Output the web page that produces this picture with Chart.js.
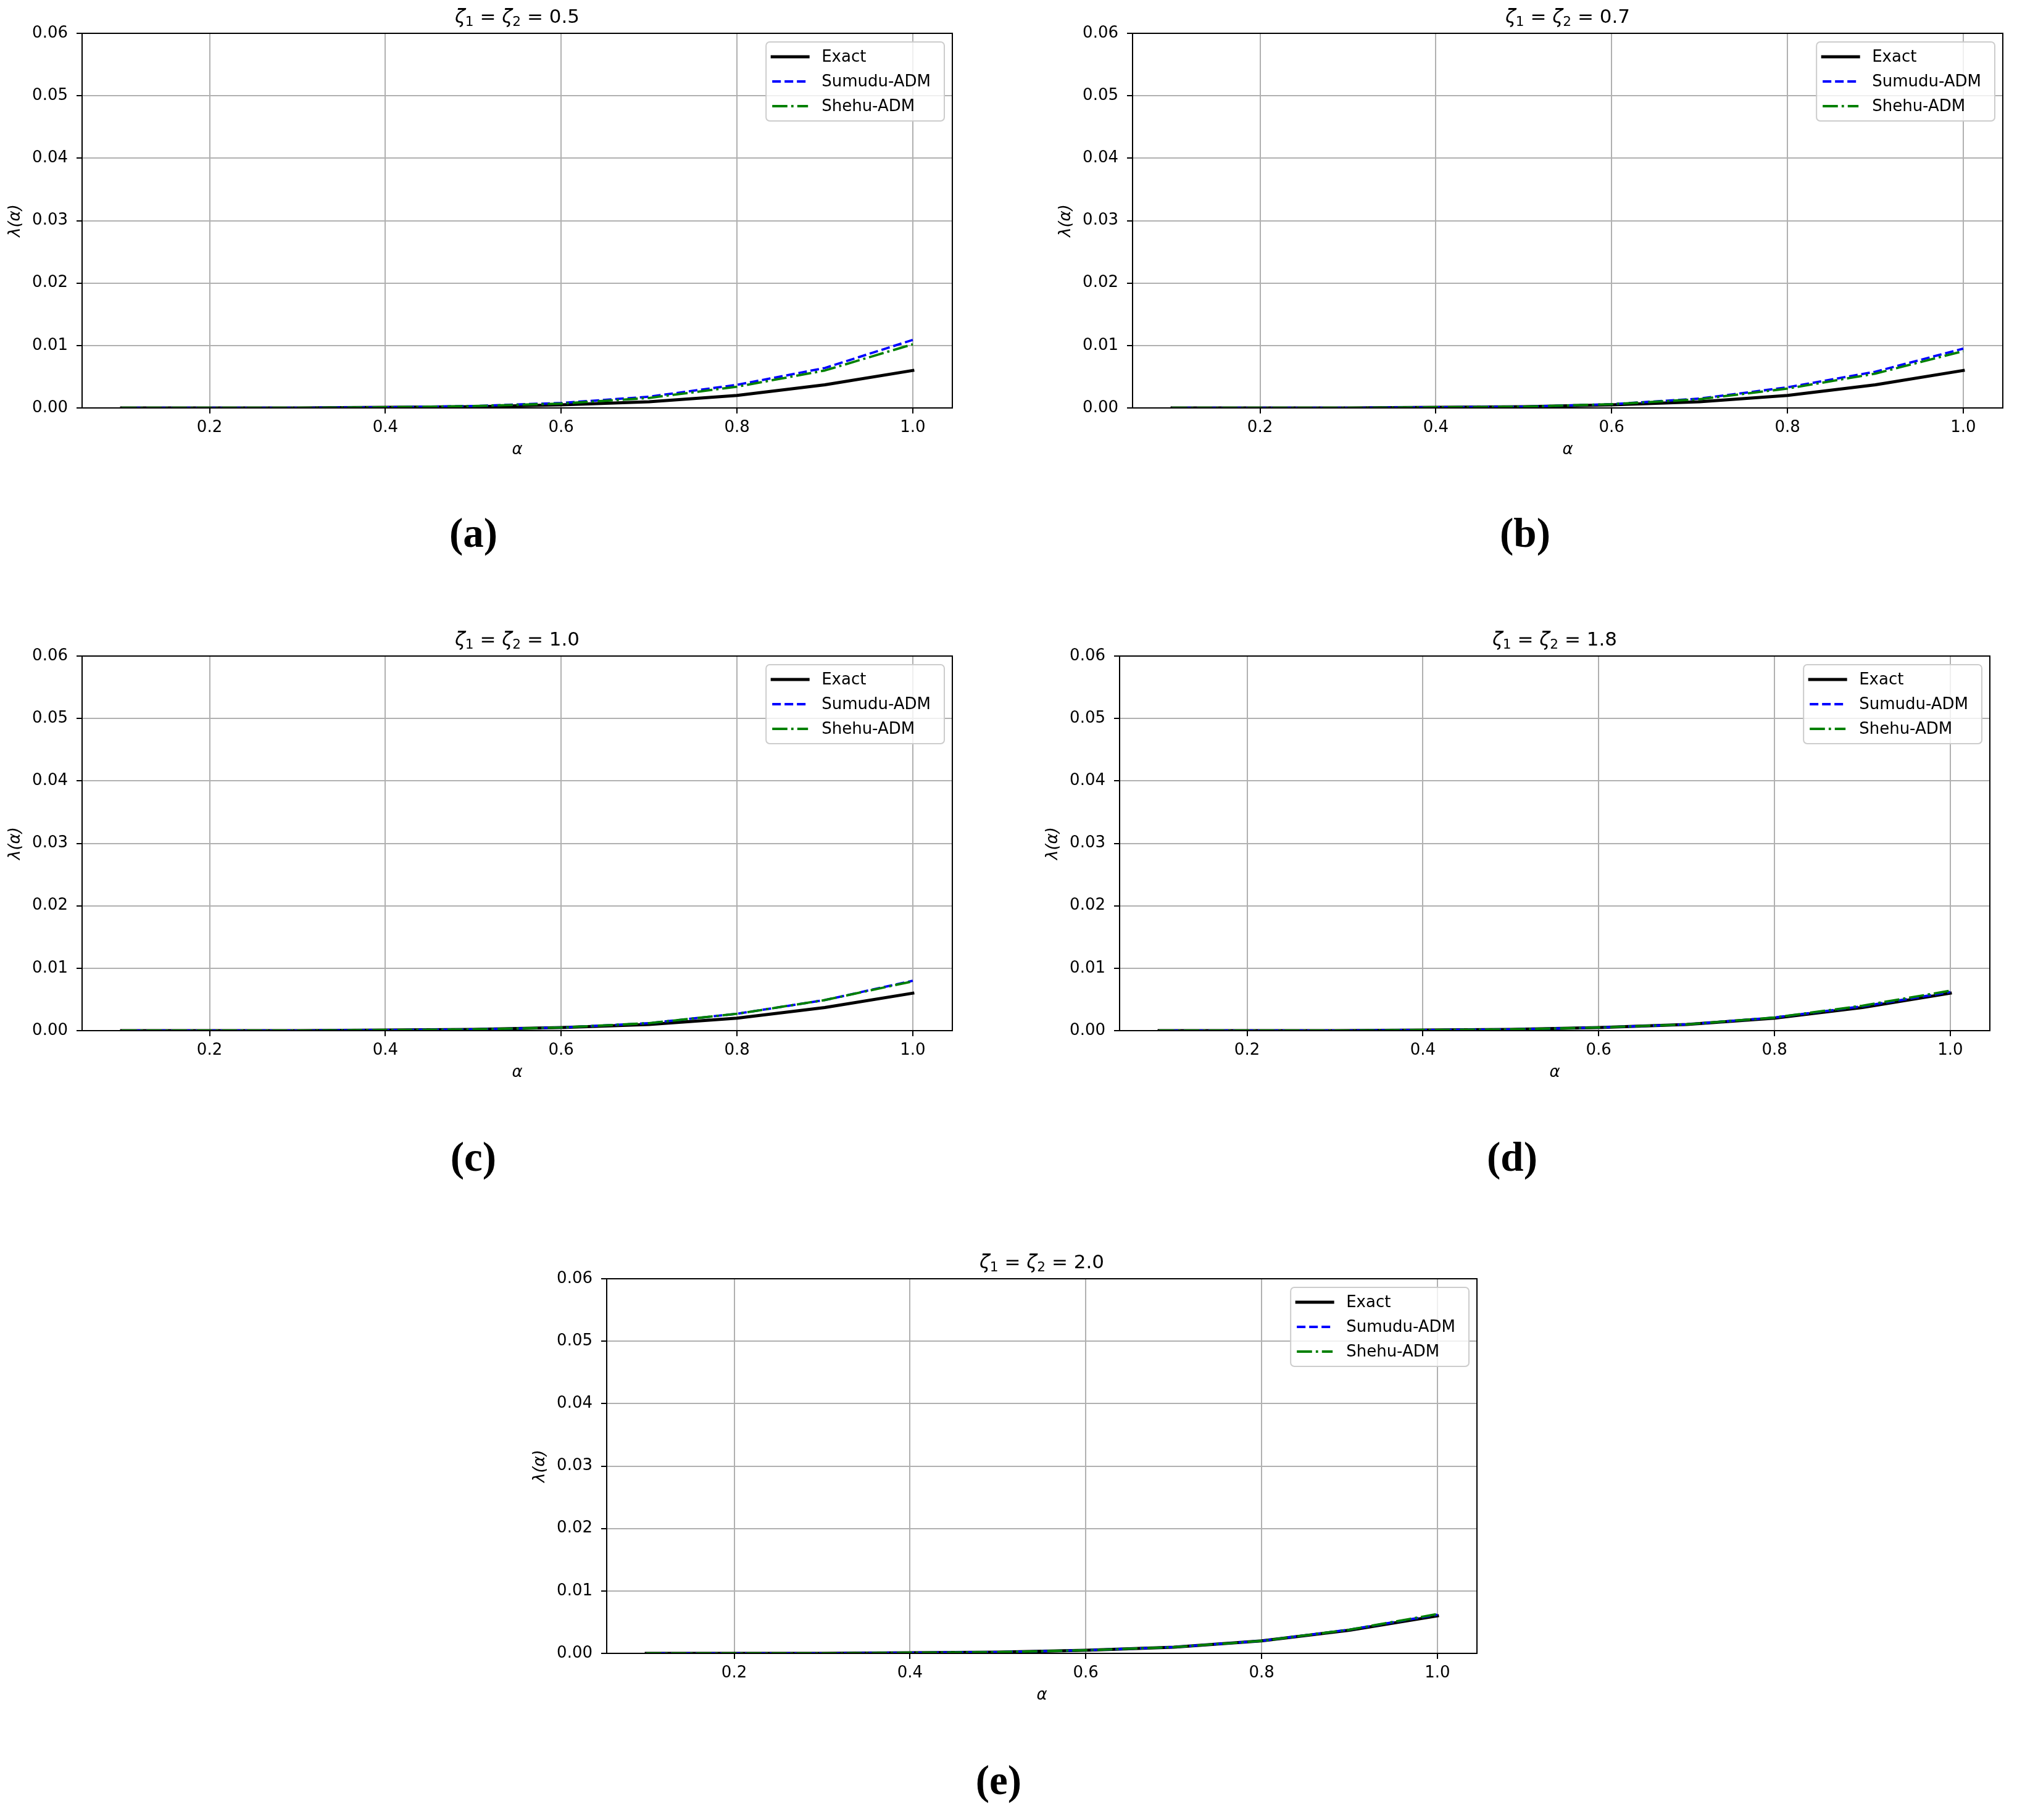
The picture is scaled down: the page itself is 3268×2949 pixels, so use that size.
<!DOCTYPE html>
<html>
<head>
<meta charset="utf-8">
<script src="https://cdn.jsdelivr.net/npm/chart.js@4.4.1/dist/chart.umd.min.js"></script>
<style>
  html, body { margin: 0; padding: 0; background: #fff; }
  body { position: relative; width: 3268px; height: 2949px; overflow: hidden; font-family: 'DejaVu Sans'; }
  canvas { position: absolute; }
  .title { position: absolute; font-size: 31px; line-height: 1; white-space: nowrap; transform: translateX(-50%); color: #000; }
  .title .sub { font-size: 70%; position: relative; top: 0.25em; }
  .letter { position: absolute; font-family: 'Liberation Serif', serif; font-weight: bold; font-size: 67px; line-height: 1; transform: translateX(-50%); color: #000; }
</style>
</head>
<body>
<script>
// valores
const alpha = [0.1, 0.2, 0.3, 0.4, 0.5, 0.6, 0.7, 0.8, 0.9, 1.0];
const exact = [0.0000, 0.0000, 0.0000, 0.0001, 0.0002, 0.0005, 0.0010, 0.0020, 0.0037, 0.0060];

const sumuduA = [0.0000, 0.0000, 0.0000, 0.0001, 0.0003, 0.0008, 0.0018, 0.0037, 0.0064, 0.0109];
const shehuA  = [0.0000, 0.0000, 0.0000, 0.0001, 0.0003, 0.0007, 0.0016, 0.0034, 0.0060, 0.0102];
const sumuduB = [0.0000, 0.0000, 0.0000, 0.0001, 0.0002, 0.0006, 0.0015, 0.0033, 0.0058, 0.0095];
const shehuB  = [0.0000, 0.0000, 0.0000, 0.0001, 0.0002, 0.0006, 0.0014, 0.0031, 0.0055, 0.0091];
const sumuduC = [0.0000, 0.0000, 0.0000, 0.0001, 0.0002, 0.0005, 0.0012, 0.0027, 0.0049, 0.0080];
const shehuC  = [0.0000, 0.0000, 0.0000, 0.0001, 0.0002, 0.0005, 0.0012, 0.0027, 0.0049, 0.0079];
const sumuduD = [0.0000, 0.0000, 0.0000, 0.0001, 0.0002, 0.0005, 0.0010, 0.0021, 0.0039, 0.0062];
const shehuD  = [0.0000, 0.0000, 0.0000, 0.0001, 0.0002, 0.0005, 0.0010, 0.0021, 0.0040, 0.0064];
const sumuduE = [0.0000, 0.0000, 0.0000, 0.0001, 0.0002, 0.0005, 0.0010, 0.0020, 0.0038, 0.0062];
const shehuE  = [0.0000, 0.0000, 0.0000, 0.0001, 0.0002, 0.0005, 0.0010, 0.0020, 0.0038, 0.0063];

const zetas = ['0.5', '0.7', '1.0', '1.8', '2.0'];
const letters = ['(a)', '(b)', '(c)', '(d)', '(e)'];
const seriesNames = ['Exact', 'Sumudu-ADM', 'Shehu-ADM'];
const xTicks = [0.2, 0.4, 0.6, 0.8, 1.0];
const xRange = [0.055, 1.045];
const yRange = [0, 0.06];
const yStep = 0.01;

// layout (px) - area do plot de cada painel
const AXIS_W = 133, AXIS_H = 100, PAD_T = 54, PAD_R = 30, PLOT_W = 1410, PLOT_H = 607;
const panels = [
  { left: 133,  top: 54,   letterX: 767,  letterY: 868,  sumudu: sumuduA, shehu: shehuA },
  { left: 1835, top: 54,   letterX: 2471, letterY: 868,  sumudu: sumuduB, shehu: shehuB },
  { left: 133,  top: 1063, letterX: 767,  letterY: 1879, sumudu: sumuduC, shehu: shehuC },
  { left: 1814, top: 1063, letterX: 2450, letterY: 1879, sumudu: sumuduD, shehu: shehuD },
  { left: 983,  top: 2072, letterX: 1618, letterY: 2889, sumudu: sumuduE, shehu: shehuE }
];

Chart.defaults.font.family = "'DejaVu Sans'";
Chart.defaults.color = '#000';

// moldura (spines) em volta da area do grafico
const frame = {
  id: 'frame',
  afterDatasetsDraw(chart) {
    const { ctx, chartArea: a } = chart;
    ctx.save();
    ctx.strokeStyle = '#000';
    ctx.lineWidth = 2;
    ctx.strokeRect(a.left, a.top, a.width, a.height);
    ctx.restore();
  }
};

// legenda no canto superior direito, estilo matplotlib
const legendBox = {
  id: 'legendBox',
  afterDraw(chart) {
    const { ctx, chartArea } = chart;
    const sets = chart.data.datasets;
    ctx.save();
    ctx.font = "26px 'DejaVu Sans'";
    const textW = Math.max(...sets.map(d => ctx.measureText(d.label).width));
    const w = 90 + textW + 22, h = 128;
    const x = chartArea.right - 13 - w, y = chartArea.top + 14;
    ctx.beginPath();
    ctx.roundRect(x, y, w, h, 6);
    ctx.fillStyle = 'rgba(255,255,255,0.8)';
    ctx.fill();
    ctx.strokeStyle = '#cccccc';
    ctx.lineWidth = 2;
    ctx.stroke();
    sets.forEach((d, i) => {
      const cy = y + 24 + i * 40;
      ctx.beginPath();
      ctx.setLineDash(d.borderDash || []);
      ctx.lineWidth = d.borderWidth;
      ctx.strokeStyle = d.borderColor;
      ctx.lineCap = d.borderCapStyle || 'butt';
      ctx.moveTo(x + 10, cy);
      ctx.lineTo(x + 68, cy);
      ctx.stroke();
      ctx.setLineDash([]);
      ctx.fillStyle = '#000';
      ctx.textBaseline = 'middle';
      ctx.textAlign = 'left';
      ctx.fillText(d.label, x + 90, cy + 1);
    });
    ctx.restore();
  }
};

function pontos(serie) {
  return alpha.map((a, k) => ({ x: a, y: serie[k] }));
}

function grid() {
  return { color: '#b0b0b0', lineWidth: 2, tickLength: 9, tickColor: '#000', tickWidth: 2 };
}

function criarPainel(i) {
  const p = panels[i];
  const canvas = document.createElement('canvas');
  const cw = AXIS_W + PLOT_W + PAD_R, ch = PAD_T + PLOT_H + AXIS_H;
  canvas.width = cw; canvas.height = ch;
  canvas.style.width = cw + 'px'; canvas.style.height = ch + 'px';
  canvas.style.left = (p.left - AXIS_W) + 'px';
  canvas.style.top = (p.top - PAD_T) + 'px';
  document.body.appendChild(canvas);

  const t = document.createElement('div');
  t.className = 'title';
  t.innerHTML = '<i>ζ</i><span class="sub">1</span> = <i>ζ</i><span class="sub">2</span> = ' + zetas[i];
  t.style.left = (p.left + PLOT_W / 2) + 'px';
  t.style.top = (p.top - 43) + 'px';
  document.body.appendChild(t);

  const l = document.createElement('div');
  l.className = 'letter';
  l.textContent = letters[i];
  l.style.left = p.letterX + 'px';
  l.style.top = (p.letterY - 38) + 'px';
  document.body.appendChild(l);

  new Chart(canvas.getContext('2d'), {
    type: 'line',
    data: {
      datasets: [
        { label: seriesNames[0], data: pontos(exact), borderColor: '#000000', borderWidth: 5,
          borderCapStyle: 'square', borderJoinStyle: 'round', order: 2 },
        { label: seriesNames[1], data: pontos(p.sumudu), borderColor: '#0000ff', borderWidth: 3.8,
          borderDash: [14, 6], borderJoinStyle: 'round', order: 1 },
        { label: seriesNames[2], data: pontos(p.shehu), borderColor: '#008000', borderWidth: 3.8,
          borderDash: [24.6, 6.1, 3.8, 6.1], borderJoinStyle: 'round', order: 0 }
      ]
    },
    options: {
      responsive: false,
      animation: false,
      devicePixelRatio: 1,
      events: [],
      layout: { padding: { left: 0, top: PAD_T, right: PAD_R, bottom: 0 } },
      elements: { point: { radius: 0 }, line: { tension: 0, fill: false } },
      datasets: { line: { clip: 0 } },
      plugins: { legend: { display: false }, tooltip: { enabled: false } },
      scales: {
        x: {
          type: 'linear', min: xRange[0], max: xRange[1], bounds: 'data',
          afterBuildTicks: s => { s.ticks = xTicks.map(v => ({ value: v })); },
          afterFit: s => { s.height = AXIS_H; s.paddingLeft = 0; s.paddingRight = 0; },
          ticks: { callback: v => v.toFixed(1), font: { size: 26 }, color: '#000', padding: 8, maxRotation: 0, autoSkip: false },
          grid: grid(),
          border: { color: '#000', width: 2 },
          title: { display: true, text: 'α', color: '#000', font: { size: 26, style: 'italic' }, padding: { top: 0, bottom: 16 } }
        },
        y: {
          type: 'linear', min: yRange[0], max: yRange[1],
          afterFit: s => { s.width = AXIS_W; s.paddingTop = 0; s.paddingBottom = 0; },
          ticks: { stepSize: yStep, callback: v => v.toFixed(2), font: { size: 26 }, color: '#000', padding: 14 },
          grid: grid(),
          border: { color: '#000', width: 2 },
          title: { display: true, text: 'λ(α)', color: '#000', font: { size: 26, style: 'italic' }, padding: { top: 10, bottom: 0 } }
        }
      }
    },
    plugins: [frame, legendBox]
  });
}

panels.forEach((p, i) => criarPainel(i));
</script>
</body>
</html>
